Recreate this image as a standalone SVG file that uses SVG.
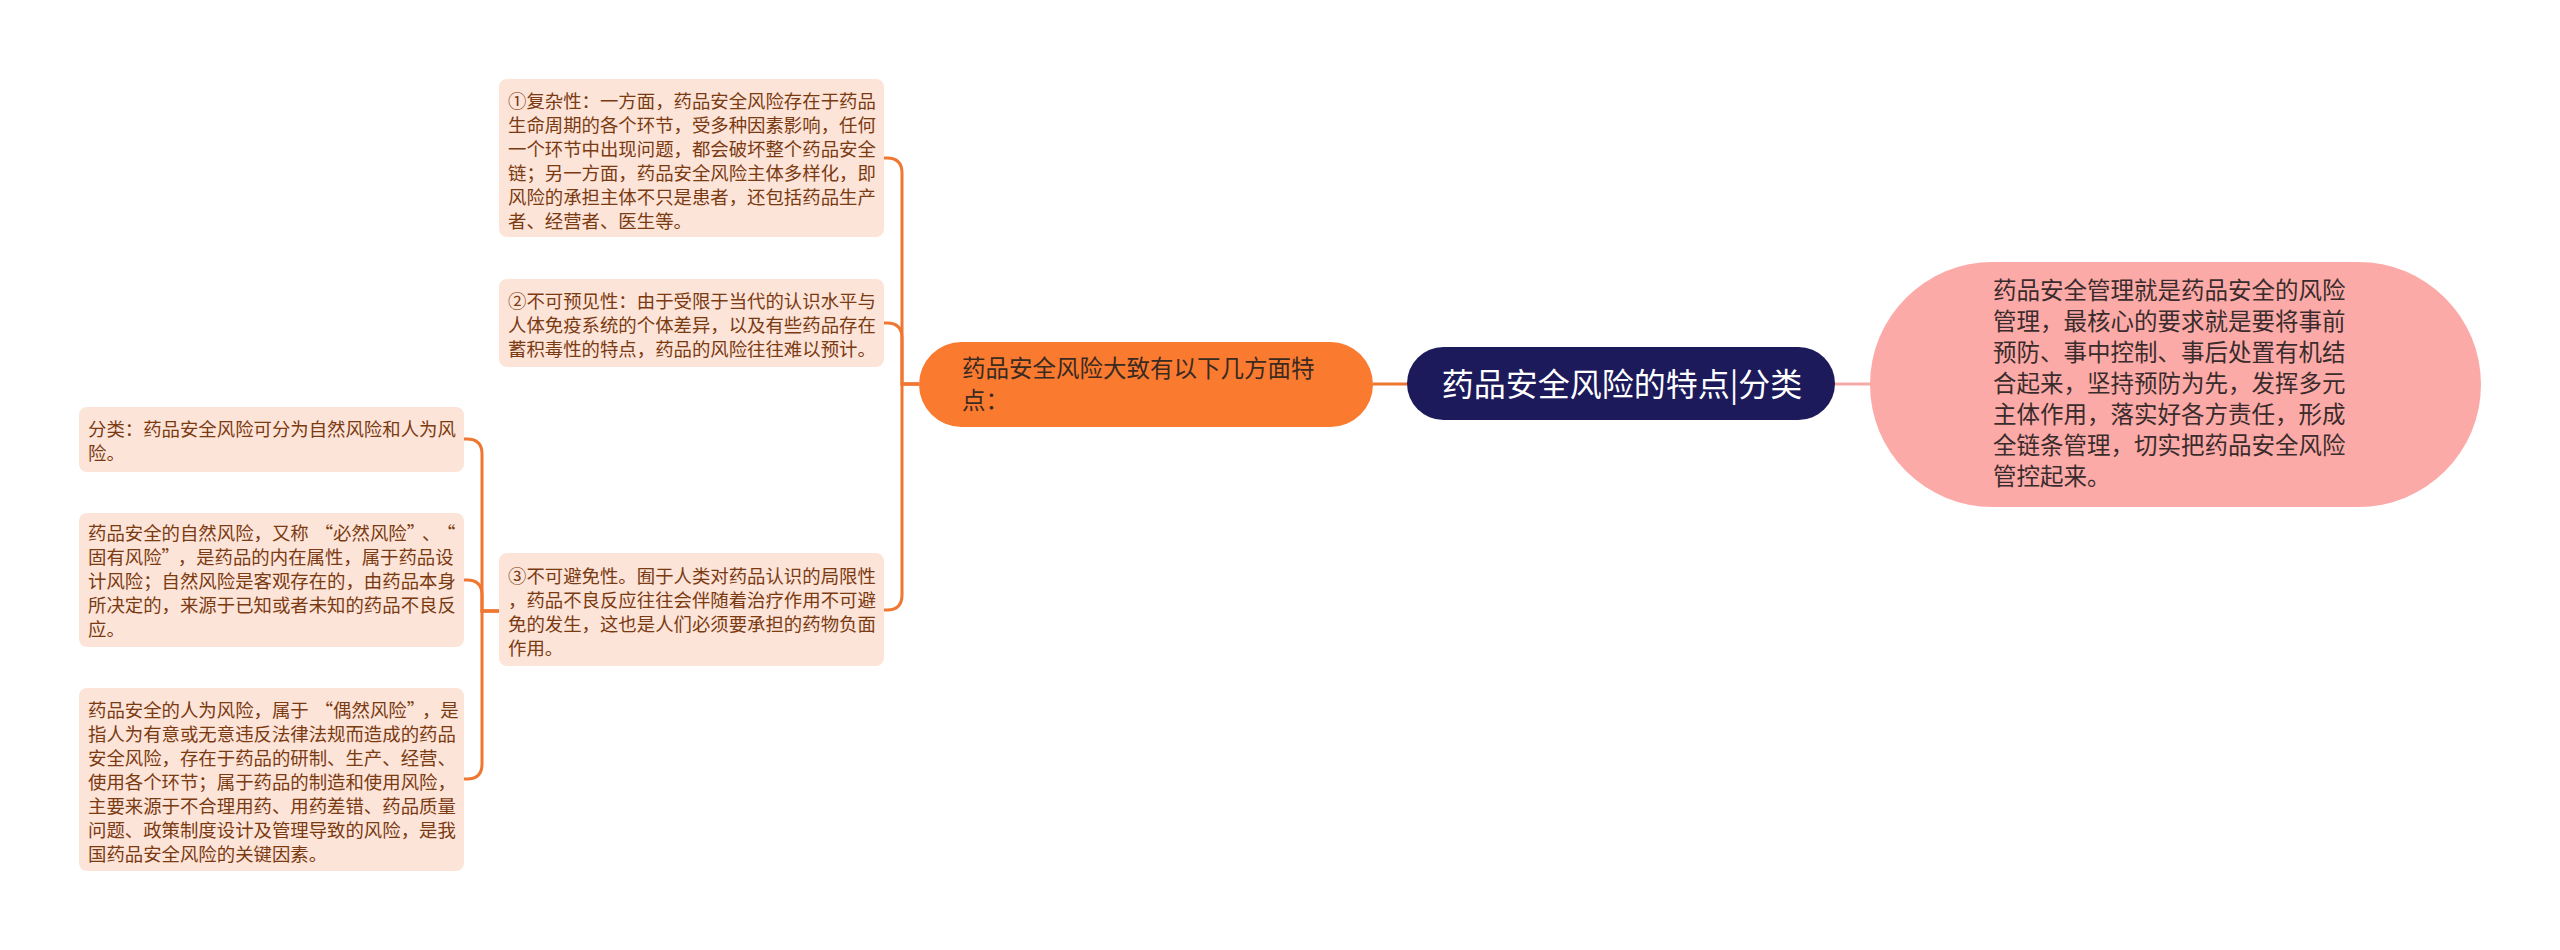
<svg xmlns="http://www.w3.org/2000/svg" width="2560" height="950" viewBox="0 0 2560 950">
<style>
text{font-family:"Noto Sans CJK SC","Noto Sans",sans-serif;}
.leaf rect{fill:#fde4d8;}
.leaf text{font-size:18.4px;fill:#7a3a12;}
.conn{fill:none;stroke:#ef7731;stroke-width:3;}
.pink{fill:none;stroke:#f6aaa8;stroke-width:3;}
</style>
<rect width="2560" height="950" fill="#ffffff"/>
<g id="connectors">
  <path class="pink" d="M1835,384 H1870"/>
  <path class="conn" d="M1373,384 H1407"/>
  <path class="conn" d="M919,384 H902 V173 Q902,158 887,158 H884"/>
  <path class="conn" d="M919,384 H902 V338 Q902,323 887,323 H884"/>
  <path class="conn" d="M919,384 H902 V595 Q902,610 887,610 H884"/>
  <path class="conn" d="M499,611 H482 V454 Q482,439 467,439 H464"/>
  <path class="conn" d="M499,611 H482 V595 Q482,580 467,580 H464"/>
  <path class="conn" d="M499,611 H482 V764 Q482,779 467,779 H464"/>
</g>
<g id="root">
  <rect x="1407" y="347" width="428" height="73" rx="36.5" fill="#1c1a5b"/>
  <text x="1622" y="396" font-size="32" fill="#ffffff" text-anchor="middle">药品安全风险的特点|分类</text>
</g>
<g id="pinknode">
  <rect x="1870" y="262" width="611" height="245" rx="122.5" fill="#fcaaa8"/>
  <text font-size="23.5" fill="#3a2c2c">
    <tspan x="1993" y="299">药品安全管理就是药品安全的风险</tspan>
    <tspan x="1993" y="330">管理，最核心的要求就是要将事前</tspan>
    <tspan x="1993" y="361">预防、事中控制、事后处置有机结</tspan>
    <tspan x="1993" y="392">合起来，坚持预防为先，发挥多元</tspan>
    <tspan x="1993" y="423">主体作用，落实好各方责任，形成</tspan>
    <tspan x="1993" y="454">全链条管理，切实把药品安全风险</tspan>
    <tspan x="1993" y="485">管控起来。</tspan>
  </text>
</g>
<g id="branch">
  <rect x="919" y="342" width="454" height="85" rx="42.5" fill="#fa7b30"/>
  <text font-size="23.5" fill="#3a2a20">
    <tspan x="962" y="377">药品安全风险大致有以下几方面特</tspan>
    <tspan x="962" y="409">点：</tspan>
  </text>
</g>
<g id="leaf1" class="leaf">
  <rect x="499" y="79" width="385" height="158" rx="8"/>
  <text>
    <tspan x="508" y="108">①复杂性：一方面，药品安全风险存在于药品</tspan>
    <tspan x="508" y="132">生命周期的各个环节，受多种因素影响，任何</tspan>
    <tspan x="508" y="156">一个环节中出现问题，都会破坏整个药品安全</tspan>
    <tspan x="508" y="180">链；另一方面，药品安全风险主体多样化，即</tspan>
    <tspan x="508" y="204">风险的承担主体不只是患者，还包括药品生产</tspan>
    <tspan x="508" y="228">者、经营者、医生等。</tspan>
  </text>
</g>
<g id="leaf2" class="leaf">
  <rect x="499" y="279" width="385" height="88" rx="8"/>
  <text>
    <tspan x="508" y="308">②不可预见性：由于受限于当代的认识水平与</tspan>
    <tspan x="508" y="332">人体免疫系统的个体差异，以及有些药品存在</tspan>
    <tspan x="508" y="356">蓄积毒性的特点，药品的风险往往难以预计。</tspan>
  </text>
</g>
<g id="leaf3" class="leaf">
  <rect x="499" y="553" width="385" height="113" rx="8"/>
  <text>
    <tspan x="508" y="583">③不可避免性。囿于人类对药品认识的局限性</tspan>
    <tspan x="508" y="607">，药品不良反应往往会伴随着治疗作用不可避</tspan>
    <tspan x="508" y="631">免的发生，这也是人们必须要承担的药物负面</tspan>
    <tspan x="508" y="655">作用。</tspan>
  </text>
</g>
<g id="leafA" class="leaf">
  <rect x="79" y="407" width="385" height="65" rx="8"/>
  <text>
    <tspan x="88" y="436">分类：药品安全风险可分为自然风险和人为风</tspan>
    <tspan x="88" y="460">险。</tspan>
  </text>
</g>
<g id="leafB" class="leaf">
  <rect x="79" y="513" width="385" height="134" rx="8"/>
  <text>
    <tspan x="88" y="540">药品安全的自然风险，又称<tspan dx="6">“</tspan>必然风险”<tspan dx="6">、</tspan><tspan dx="6">“</tspan></tspan>
    <tspan x="88" y="564">固有风险”<tspan dx="7">，</tspan>是药品的内在属性，属于药品设</tspan>
    <tspan x="88" y="588">计风险；自然风险是客观存在的，由药品本身</tspan>
    <tspan x="88" y="612">所决定的，来源于已知或者未知的药品不良反</tspan>
    <tspan x="88" y="636">应。</tspan>
  </text>
</g>
<g id="leafC" class="leaf">
  <rect x="79" y="688" width="385" height="183" rx="8"/>
  <text>
    <tspan x="88" y="717">药品安全的人为风险，属于<tspan dx="6">“</tspan>偶然风险”<tspan dx="6">，</tspan>是</tspan>
    <tspan x="88" y="741">指人为有意或无意违反法律法规而造成的药品</tspan>
    <tspan x="88" y="765">安全风险，存在于药品的研制、生产、经营、</tspan>
    <tspan x="88" y="789">使用各个环节；属于药品的制造和使用风险，</tspan>
    <tspan x="88" y="813">主要来源于不合理用药、用药差错、药品质量</tspan>
    <tspan x="88" y="837">问题、政策制度设计及管理导致的风险，是我</tspan>
    <tspan x="88" y="861">国药品安全风险的关键因素。</tspan>
  </text>
</g>
</svg>
